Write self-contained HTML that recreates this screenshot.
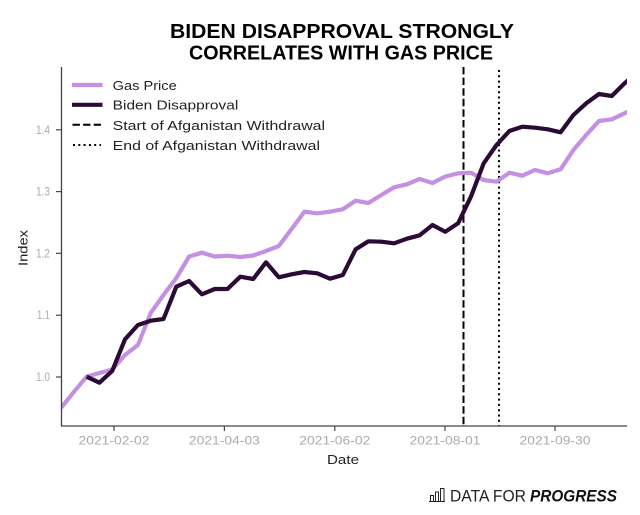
<!DOCTYPE html>
<html>
<head>
<meta charset="utf-8">
<style>
  html,body{margin:0;padding:0;background:#fff;}
  svg{display:block;}
  text{font-family:"Liberation Sans",sans-serif;}
</style>
</head>
<body>
<svg width="640" height="515" viewBox="0 0 640 515" xmlns="http://www.w3.org/2000/svg">
  <defs>
    <clipPath id="plot"><rect x="61" y="60" width="566" height="366"/></clipPath>
  </defs>
  <rect width="640" height="515" fill="#fff"/>

  <!-- Title -->
  <text x="170" y="38" font-size="20.5" font-weight="bold" fill="#000" textLength="344" lengthAdjust="spacingAndGlyphs">BIDEN DISAPPROVAL STRONGLY</text>
  <text x="189" y="59.5" font-size="20.5" font-weight="bold" fill="#000" textLength="304" lengthAdjust="spacingAndGlyphs">CORRELATES WITH GAS PRICE</text>

  <!-- Vertical event lines -->
  <line x1="463.5" y1="67" x2="463.5" y2="426" stroke="#000" stroke-width="2" stroke-dasharray="7.4,3.2"/>
  <line x1="499" y1="70" x2="499" y2="426" stroke="#000" stroke-width="2" stroke-dasharray="2,3.3"/>

  <!-- Data series -->
  <g clip-path="url(#plot)" fill="none" stroke-linejoin="round">
    <polyline stroke="#c390e2" stroke-width="4.2" points="
      61,408 73.8,392 86.6,376.7 99.4,373 112.2,369.5 125,355 137.9,345 150.7,313 163.5,295 176.3,278
      189.1,256.5 201.9,252.7 214.7,256.5 227.5,255.7 240.3,257 253.2,255.5 266,251 278.8,246 291.6,229 304.4,211.7
      317.2,213.3 330,211.7 342.8,209.3 355.6,200.7 368.4,203 381.3,195 394.1,187.3 406.9,184.3 419.7,179 432.5,183
      445.3,176.5 458.1,173.3 470.9,172.7 483.7,180 496.5,181.7 509.4,172.7 522.2,175.7 535,170 547.8,173.3 560.6,169.3
      573.4,150 586.2,135 599,121 611.8,119.3 624.6,113.3 637.4,107"/>
    <polyline stroke="#2b0b36" stroke-width="4.2" points="
      86.6,376.7 99.4,382.7 112.2,371 125,339.3 137.9,325 150.7,320.7 163.5,319 176.3,286.7
      189.1,281 201.9,294.3 214.7,289 227.5,289 240.3,276.7 253.2,279 266,262.3 278.8,277.3 291.6,274.3 304.4,272
      317.2,273.3 330,278.7 342.8,275 355.6,249.3 368.4,241.3 381.3,241.7 394.1,243.3 406.9,238.7 419.7,235.3 432.5,225
      445.3,231.8 458.1,223.3 470.9,196.7 483.7,163.3 496.5,145 509.4,131 522.2,126.7 535,127.7 547.8,129.3 560.6,132.3
      573.4,115 586.2,103.3 599,94 611.8,96 624.6,83.3 637.4,72"/>
  </g>

  <!-- Spines -->
  <line x1="61.5" y1="67" x2="61.5" y2="426.5" stroke="#444" stroke-width="1.3"/>
  <line x1="61" y1="426" x2="627" y2="426" stroke="#444" stroke-width="1.3"/>

  <!-- Y ticks -->
  <g stroke="#444" stroke-width="1.2">
    <line x1="56" y1="377" x2="61" y2="377"/>
    <line x1="56" y1="315.2" x2="61" y2="315.2"/>
    <line x1="56" y1="253.3" x2="61" y2="253.3"/>
    <line x1="56" y1="191.6" x2="61" y2="191.6"/>
    <line x1="56" y1="129.8" x2="61" y2="129.8"/>
  </g>
  <g font-size="11.5" fill="#aaa">
    <text x="36" y="381" textLength="14" lengthAdjust="spacingAndGlyphs">1.0</text>
    <text x="37" y="319.2" textLength="13" lengthAdjust="spacingAndGlyphs">1.1</text>
    <text x="36" y="257.3" textLength="14" lengthAdjust="spacingAndGlyphs">1.2</text>
    <text x="36" y="195.6" textLength="14" lengthAdjust="spacingAndGlyphs">1.3</text>
    <text x="36" y="133.8" textLength="14" lengthAdjust="spacingAndGlyphs">1.4</text>
  </g>

  <!-- X ticks -->
  <g stroke="#444" stroke-width="1.2">
    <line x1="114" y1="426" x2="114" y2="431"/>
    <line x1="224.4" y1="426" x2="224.4" y2="431"/>
    <line x1="334.8" y1="426" x2="334.8" y2="431"/>
    <line x1="445" y1="426" x2="445" y2="431"/>
    <line x1="555" y1="426" x2="555" y2="431"/>
  </g>
  <g font-size="11.5" fill="#aaa">
    <text x="78.5" y="444.5" textLength="71" lengthAdjust="spacingAndGlyphs">2021-02-02</text>
    <text x="188.9" y="444.5" textLength="71" lengthAdjust="spacingAndGlyphs">2021-04-03</text>
    <text x="299.3" y="444.5" textLength="71" lengthAdjust="spacingAndGlyphs">2021-06-02</text>
    <text x="409.5" y="444.5" textLength="71" lengthAdjust="spacingAndGlyphs">2021-08-01</text>
    <text x="519.5" y="444.5" textLength="71" lengthAdjust="spacingAndGlyphs">2021-09-30</text>
  </g>

  <!-- Axis labels -->
  <text x="327" y="464" font-size="13" fill="#222" textLength="32" lengthAdjust="spacingAndGlyphs">Date</text>
  <text transform="translate(27.5,266) rotate(-90)" x="0" y="0" font-size="13" fill="#222" textLength="36" lengthAdjust="spacingAndGlyphs">Index</text>

  <!-- Legend -->
  <line x1="72" y1="85" x2="102.5" y2="85" stroke="#c390e2" stroke-width="4.2"/>
  <line x1="72" y1="104.8" x2="102.5" y2="104.8" stroke="#2b0b36" stroke-width="4.2"/>
  <line x1="72.5" y1="124.8" x2="101" y2="124.8" stroke="#000" stroke-width="2" stroke-dasharray="7.4,3.2"/>
  <line x1="73" y1="145" x2="101" y2="145" stroke="#000" stroke-width="2" stroke-dasharray="2,3.3"/>
  <g font-size="13" fill="#222">
    <text x="112.7" y="90" textLength="64" lengthAdjust="spacingAndGlyphs">Gas Price</text>
    <text x="112.7" y="109.5" textLength="125.6" lengthAdjust="spacingAndGlyphs">Biden Disapproval</text>
    <text x="112.7" y="130" textLength="212.3" lengthAdjust="spacingAndGlyphs">Start of Afganistan Withdrawal</text>
    <text x="112.7" y="150" textLength="207.3" lengthAdjust="spacingAndGlyphs">End of Afganistan Withdrawal</text>
  </g>

  <!-- Logo -->
  <g fill="none" stroke="#222" stroke-width="1">
    <line x1="429" y1="501.5" x2="445" y2="501.5"/>
    <rect x="430.5" y="495.5" width="3" height="6"/>
    <rect x="435.5" y="492" width="3" height="9.5"/>
    <rect x="440.5" y="488.5" width="3.5" height="13"/>
  </g>
  <text x="450" y="501.7" font-size="17" fill="#222" textLength="76" lengthAdjust="spacingAndGlyphs">DATA FOR</text>
  <text x="530" y="501.7" font-size="17" font-weight="bold" font-style="italic" fill="#111" textLength="87" lengthAdjust="spacingAndGlyphs">PROGRESS</text>
</svg>
</body>
</html>
